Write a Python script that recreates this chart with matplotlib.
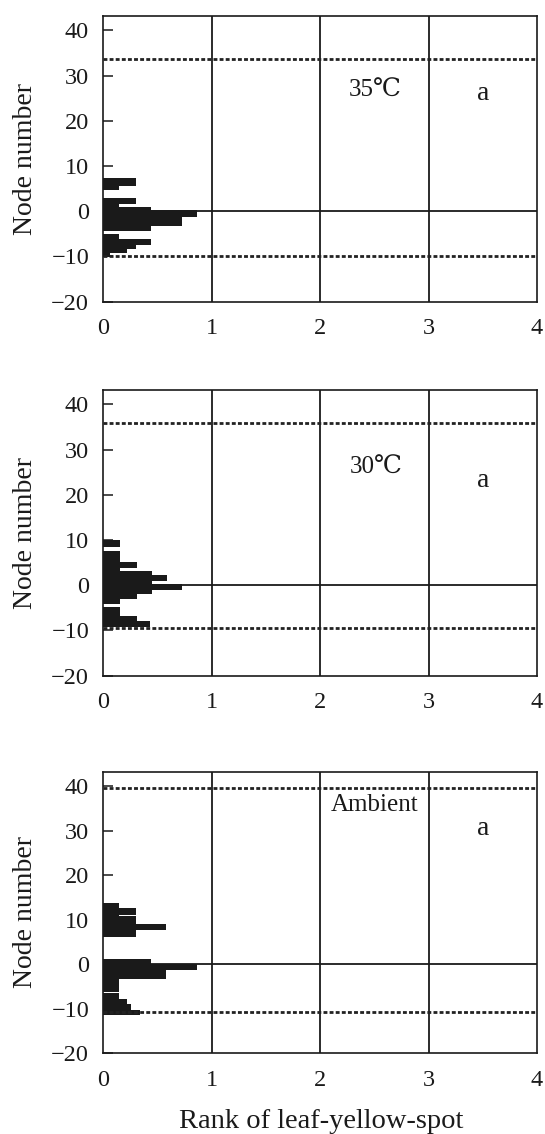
import numpy as np
import matplotlib
matplotlib.use("Agg")
import matplotlib.pyplot as plt

plt.rcParams['font.family'] = ['Liberation Serif', 'DejaVu Serif', 'DejaVu Sans', 'Noto Sans CJK JP']
plt.rcParams['axes.unicode_minus'] = True

# ---- data (node-number edges of each bar segment, top to bottom, and rank values) ----
p1_edges = [7.35, 5.6, 4.65, 3.0, 1.7, 1.05, 0.25, -1.2, -3.2, -4.45, -5.0, -6.15, -7.4, -8.35, -9.3, -10.2]
p1_ranks = [0.30, 0.15, 0.0, 0.30, 0.15, 0.44, 0.87, 0.73, 0.44, 0.0, 0.15, 0.44, 0.30, 0.22, 0.06]

p2_edges = [10.0, 8.4, 7.5, 5.1, 3.9, 3.1, 2.3, 0.9, 0.35, -1.0, -1.85, -2.95, -4.2, -4.9, -6.85, -7.9, -9.2]
p2_ranks = [0.16, 0.0, 0.16, 0.31, 0.16, 0.45, 0.59, 0.45, 0.73, 0.45, 0.31, 0.16, 0.0, 0.16, 0.31, 0.43]

p3_edges = [13.7, 12.6, 11.1, 10.9, 9.1, 7.7, 6.05, 1.2, -0.07, -1.4, -3.3, -6.3, -6.6, -7.75, -8.9, -10.4, -11.5]
p3_ranks = [0.15, 0.30, 0.15, 0.30, 0.58, 0.30, 0.0, 0.44, 0.87, 0.58, 0.15, 0.0, 0.15, 0.22, 0.26, 0.34]

dashed_levels = [(33.6, -9.8), (35.8, -9.4), (39.7, -10.8)]
conditions = ["35℃", "30℃", "Ambient"]
cond_pos = [(2.51, 26.6), (2.52, 26.0), (2.50, 35.7)]
letters = ["a", "a", "a"]
letter_pos = [(3.50, 26.0), (3.50, 23.1), (3.50, 30.5)]

yticks = [-20, -10, 0, 10, 20, 30, 40]
xticks = [0, 1, 2, 3, 4]

W, H = 545, 1134
fig = plt.figure(figsize=(W / 100, H / 100), dpi=100)

# panel frames in pixels (top, bottom)
frames = [(16, 301.7), (390, 675.7), (772, 1053)]
left_px, right_px = 103, 537

panels = [(p1_edges, p1_ranks), (p2_edges, p2_ranks), (p3_edges, p3_ranks)]
ink = '#1a1a1a'

for i, ((edges, ranks), (top, bot)) in enumerate(zip(panels, frames)):
    ax = fig.add_axes([left_px / W, 1 - bot / H, (right_px - left_px) / W, (bot - top) / H])
    e = np.array(edges)
    r = np.array(ranks)
    ax.barh(e[1:], r, height=e[:-1] - e[1:], align='edge', color=ink, edgecolor='none', zorder=2)
    ax.set_xlim(0, 4)
    ax.set_ylim(-20, 43.2)
    for xv in [1, 2, 3]:
        ax.axvline(xv, color=ink, lw=1.3, zorder=3)
    ax.axhline(0, color=ink, lw=1.3, zorder=3)
    up, lo = dashed_levels[i]
    for yv in (up, lo):
        ax.axhline(yv, color='#222222', lw=2.0, ls=(0, (1.4, 0.8)), zorder=4)
    ax.text(*cond_pos[i], conditions[i], ha='center', va='center', fontsize=18, color=ink)
    ax.text(*letter_pos[i], letters[i], ha='center', va='center', fontsize=20, color=ink)
    ax.set_yticks(yticks)
    ax.set_xticks(xticks)
    ax.tick_params(axis='y', direction='in', length=7, width=1.1, labelsize=17.5, pad=10, colors=ink)
    ax.tick_params(axis='x', length=0, labelsize=17.5, pad=12, colors=ink)
    for s in ax.spines.values():
        s.set_linewidth(1.2)
        s.set_color(ink)
    ax.set_ylabel("Node number", fontsize=20, color=ink)
    ax.yaxis.set_label_coords(-0.15, 0.5)

fig.text(321 / W, 1 - 1122 / H, "Rank of leaf-yellow-spot", ha='center', va='center', fontsize=20.5, color=ink)

fig.savefig("out.png", dpi=100)
